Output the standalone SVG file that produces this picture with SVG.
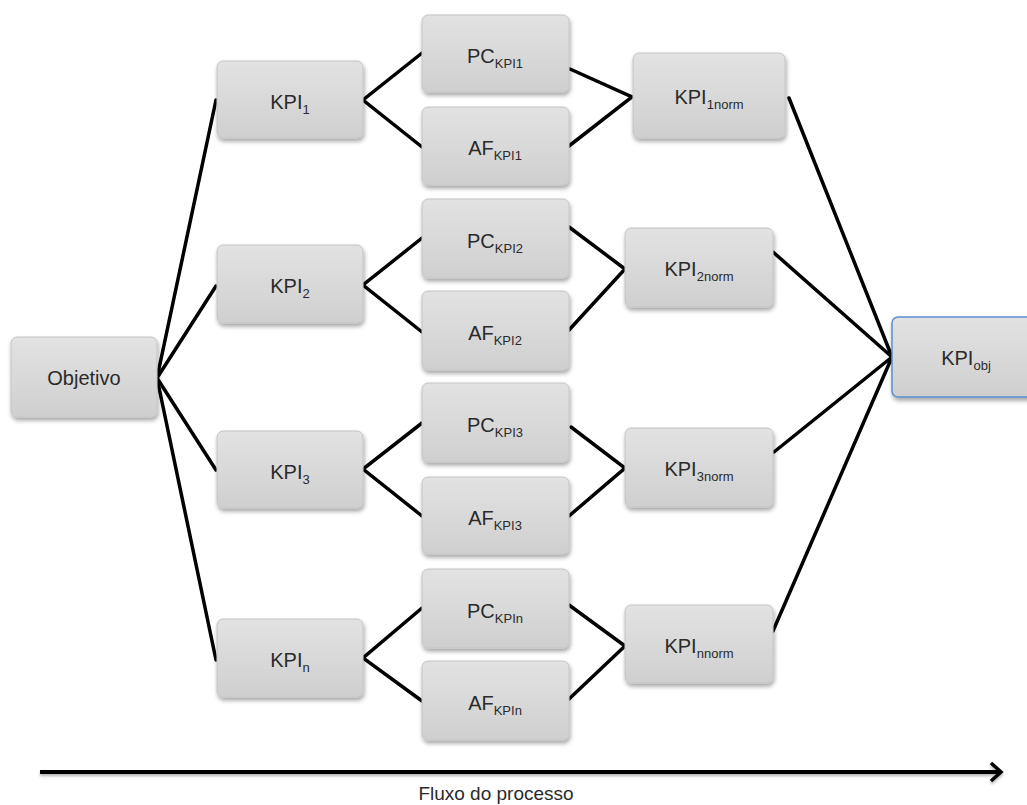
<svg xmlns="http://www.w3.org/2000/svg" width="1027" height="805" viewBox="0 0 1027 805">
<style>
  .box { fill: url(#g); stroke: #c4c4c4; stroke-width: 1; filter: url(#sh); }
  .obj { fill: url(#g); stroke: #5b8fd0; stroke-width: 1.5; filter: url(#sh); }
  .lbl { font-family: "Liberation Sans", Arial, sans-serif; font-size: 20px; fill: #2a2a2a; text-anchor: middle; }
  .sub { font-size: 13px; }
  .c { stroke: #000; stroke-width: 3.5; fill: none; stroke-linecap: round; }
</style>
<defs>
  <linearGradient id="g" x1="0" y1="0" x2="0" y2="1">
    <stop offset="0" stop-color="#e2e2e2"/>
    <stop offset="0.5" stop-color="#d9d9d9"/>
    <stop offset="1" stop-color="#cfcfcf"/>
  </linearGradient>
  <filter id="sh" x="-10%" y="-10%" width="125%" height="130%">
    <feDropShadow dx="1" dy="3" stdDeviation="2" flood-color="#000" flood-opacity="0.35"/>
  </filter>
  <filter id="ash" x="-5%" y="-50%" width="110%" height="300%">
    <feDropShadow dx="0" dy="2" stdDeviation="1.5" flood-color="#000" flood-opacity="0.3"/>
  </filter>
</defs>
<rect width="1027" height="805" fill="#fff"/>

<g id="connectors">
  <line class="c" x1="157" y1="378" x2="216" y2="100"/>
  <line class="c" x1="157" y1="378" x2="216" y2="286"/>
  <line class="c" x1="157" y1="378" x2="216" y2="470"/>
  <line class="c" x1="157" y1="378" x2="216" y2="660"/>

  <polyline class="c" points="422,53 363,100 422,147"/>
  <polyline class="c" points="570,69 632,97 569,146"/>
  <line class="c" x1="789" y1="98" x2="892" y2="357"/>

  <polyline class="c" points="422,238 363,285 422,332"/>
  <polyline class="c" points="569,227 625,269 569,330"/>
  <line class="c" x1="773" y1="252" x2="892" y2="357"/>

  <polyline class="c" points="422,423 363,469 422,516"/>
  <polyline class="c" points="571,427 625,468 569,516"/>
  <line class="c" x1="774" y1="452" x2="892" y2="357"/>

  <polyline class="c" points="422,608 363,658 422,701"/>
  <polyline class="c" points="569,605 625,646 569,699"/>
  <line class="c" x1="773" y1="631" x2="892" y2="357"/>
</g>

<g id="objetivo">
  <rect class="box" x="11" y="337" width="146" height="80" rx="6"/>
  <text class="lbl" x="84" y="385">Objetivo</text>
</g>

<g id="kpi1">
  <rect class="box" x="217" y="61" width="146" height="77" rx="6"/>
  <text class="lbl" x="290" y="109">KPI<tspan class="sub" dy="5">1</tspan></text>
</g>
<g id="kpi2">
  <rect class="box" x="217" y="245" width="146" height="78" rx="6"/>
  <text class="lbl" x="290" y="293">KPI<tspan class="sub" dy="5">2</tspan></text>
</g>
<g id="kpi3">
  <rect class="box" x="217" y="431" width="146" height="77" rx="6"/>
  <text class="lbl" x="290" y="479">KPI<tspan class="sub" dy="5">3</tspan></text>
</g>
<g id="kpin">
  <rect class="box" x="217" y="619" width="146" height="78" rx="6"/>
  <text class="lbl" x="290" y="667">KPI<tspan class="sub" dy="5">n</tspan></text>
</g>

<g id="pc1">
  <rect class="box" x="422" y="15" width="147" height="77" rx="6"/>
  <text class="lbl" x="495" y="63">PC<tspan class="sub" dy="5">KPI1</tspan></text>
</g>
<g id="af1">
  <rect class="box" x="422" y="107" width="147" height="78" rx="6"/>
  <text class="lbl" x="495" y="155">AF<tspan class="sub" dy="5">KPI1</tspan></text>
</g>
<g id="pc2">
  <rect class="box" x="422" y="199" width="147" height="79" rx="6"/>
  <text class="lbl" x="495" y="248">PC<tspan class="sub" dy="5">KPI2</tspan></text>
</g>
<g id="af2">
  <rect class="box" x="422" y="291" width="147" height="79" rx="6"/>
  <text class="lbl" x="495" y="340">AF<tspan class="sub" dy="5">KPI2</tspan></text>
</g>
<g id="pc3">
  <rect class="box" x="422" y="383" width="147" height="79" rx="6"/>
  <text class="lbl" x="495" y="432">PC<tspan class="sub" dy="5">KPI3</tspan></text>
</g>
<g id="af3">
  <rect class="box" x="422" y="477" width="147" height="77" rx="6"/>
  <text class="lbl" x="495" y="525">AF<tspan class="sub" dy="5">KPI3</tspan></text>
</g>
<g id="pcn">
  <rect class="box" x="422" y="569" width="147" height="79" rx="6"/>
  <text class="lbl" x="495" y="618">PC<tspan class="sub" dy="5">KPIn</tspan></text>
</g>
<g id="afn">
  <rect class="box" x="422" y="661" width="147" height="79" rx="6"/>
  <text class="lbl" x="495" y="710">AF<tspan class="sub" dy="5">KPIn</tspan></text>
</g>

<g id="kpi1norm">
  <rect class="box" x="633" y="53" width="152" height="85" rx="6"/>
  <text class="lbl" x="709" y="104">KPI<tspan class="sub" dy="5">1norm</tspan></text>
</g>
<g id="kpi2norm">
  <rect class="box" x="625" y="228" width="148" height="79" rx="6"/>
  <text class="lbl" x="699" y="276">KPI<tspan class="sub" dy="5">2norm</tspan></text>
</g>
<g id="kpi3norm">
  <rect class="box" x="625" y="428" width="148" height="79" rx="6"/>
  <text class="lbl" x="699" y="476">KPI<tspan class="sub" dy="5">3norm</tspan></text>
</g>
<g id="kpinnorm">
  <rect class="box" x="625" y="605" width="148" height="78" rx="6"/>
  <text class="lbl" x="699" y="653">KPI<tspan class="sub" dy="5">nnorm</tspan></text>
</g>

<g id="kpiobj">
  <rect class="obj" x="892" y="317" width="150" height="80" rx="6"/>
  <text class="lbl" x="966" y="365">KPI<tspan class="sub" dy="5">obj</tspan></text>
</g>

<g id="flow-arrow" filter="url(#ash)">
  <line x1="40" y1="772" x2="1000" y2="772" stroke="#000" stroke-width="4"/>
  <polyline points="991,763 1001,772 991,781" fill="none" stroke="#000" stroke-width="3.5" stroke-linejoin="miter"/>
</g>
<text x="496" y="800" font-family="Liberation Sans, Arial, sans-serif" font-size="19" fill="#2a2a2a" text-anchor="middle">Fluxo do processo</text>
</svg>
